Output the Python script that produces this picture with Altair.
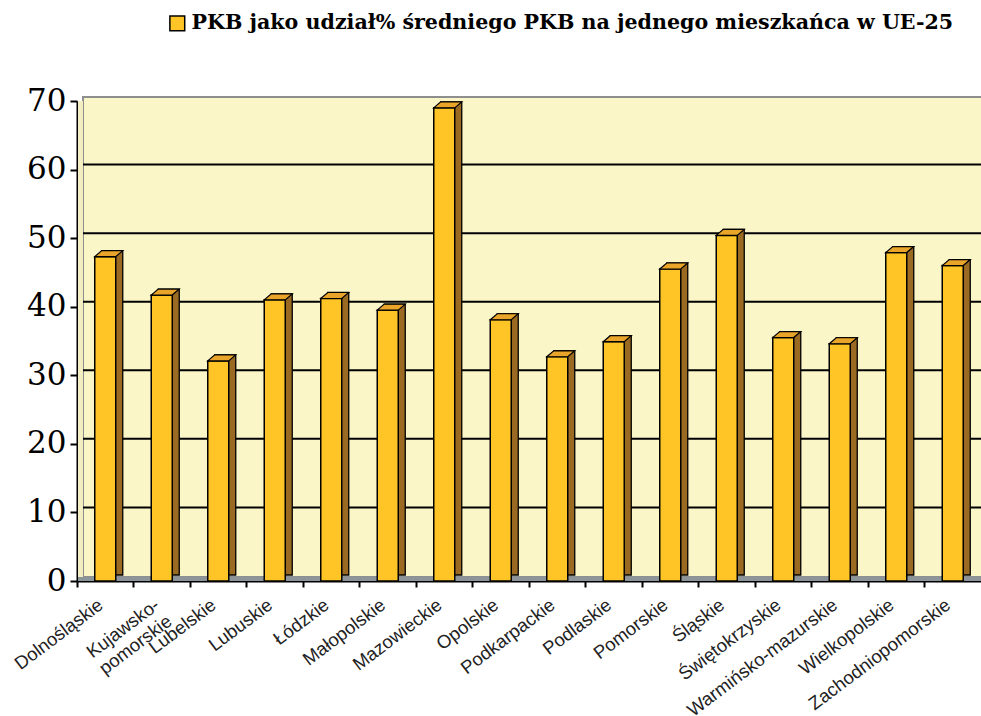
import altair as alt
import pandas as pd

regions = ["Dolnośląskie", "Kujawsko-pomorskie", "Lubelskie", "Lubuskie", "Łódzkie",
           "Małopolskie", "Mazowieckie", "Opolskie", "Podkarpackie", "Podlaskie",
           "Pomorskie", "Śląskie", "Świętokrzyskie", "Warmińsko-mazurskie",
           "Wielkopolskie", "Zachodniopomorskie"]
values = [47.3, 41.7, 32.1, 41.0, 41.2, 39.5, 69.0, 38.1, 32.7, 34.9,
          45.5, 50.4, 35.5, 34.6, 47.9, 46.0]
series_name = "PKB jako udział% średniego PKB na jednego mieszkańca w UE-25"
grid_values = [10, 20, 30, 40, 50, 60]
y_ticks = [0, 10, 20, 30, 40, 50, 60, 70]

FRONT = "#FFC425"
SIDE = "#9A6A22"
TOP = "#E8A52A"
WALL = "#FBF6C8"

W, H = 904, 480

df = pd.DataFrame({"region": regions, "value": values, "s": [series_name] * len(regions)})
gdf = pd.DataFrame({"v": grid_values})

xscale = alt.Scale(paddingInner=0, paddingOuter=0)
yscale = alt.Scale(domain=[0, 70], nice=False, zero=True)

x_enc = alt.X("region:N", sort=None, scale=xscale, title=None,
              axis=alt.Axis(bandPosition=0, labelOffset=-10, labelAngle=323,
                            labelAlign="right", labelBaseline="top",
                            labelFont="Liberation Sans", labelFontSize=18.5,
                            labelColor="#222222", labelPadding=8, labelLimit=0,
                            labelExpr="datum.value == 'Kujawsko-pomorskie' ? ['Kujawsko-', 'pomorskie'] : datum.label",
                            domainColor="black", domainWidth=2,
                            tickColor="black", tickWidth=2, tickSize=6,
                            labelOverlap=False))
y_enc = alt.Y("value:Q", scale=yscale, title=None,
              axis=alt.Axis(values=y_ticks, labelFont="DejaVu Serif", labelFontSize=31,
                            labelColor="black", labelPadding=4,
                            domainColor="black", domainWidth=2,
                            tickColor="black", tickWidth=2, tickSize=7, grid=False))

base = alt.Chart(df)

wall = alt.Chart(pd.DataFrame({"a": [1]})).mark_rect(
    fill=WALL, stroke="#8E8E8E", strokeWidth=2
).encode(x=alt.value(6), x2=alt.value(W + 10), y=alt.value(-4), y2=alt.value(476))

left_wall = alt.Chart(pd.DataFrame({"a": [1]})).mark_rect(
    fill="#F3EDC2"
).encode(x=alt.value(1), x2=alt.value(6), y=alt.value(0), y2=alt.value(479))

floor = alt.Chart(pd.DataFrame({"a": [1]})).mark_rect(
    fill="#8C969A"
).encode(x=alt.value(1), x2=alt.value(W), y=alt.value(476), y2=alt.value(480))

grid = alt.Chart(gdf).mark_rule(color="black", strokeWidth=2, yOffset=-5).encode(
    y=alt.Y("v:Q", scale=yscale), x=alt.value(6), x2=alt.value(W)
)

side = base.mark_bar(fill=SIDE, stroke="black", strokeWidth=1.3, width=21,
                     xOffset=7, yOffset=-6, y2Offset=-6).encode(x=x_enc, y=y_enc)

front = base.mark_bar(stroke="black", strokeWidth=1.5, width=21, opacity=1).encode(
    x=x_enc, y=y_enc,
    color=alt.Color("s:N", scale=alt.Scale(domain=[series_name], range=[FRONT]),
                    legend=alt.Legend(title=None, orient="none", legendX=90, legendY=-88,
                                      symbolType="square", symbolSize=220,
                                      symbolStrokeColor="black", symbolStrokeWidth=1.5,
                                      symbolFillColor=FRONT, symbolOpacity=1,
                                      labelFont="DejaVu Serif", labelFontWeight="bold",
                                      labelFontSize=20.6, labelColor="black", labelLimit=0))
)

top_shape = "M -1 0.214 L 0.5 0.214 L 1 -0.214 L -0.5 -0.214 Z"
top = base.mark_point(shape=top_shape, filled=True, fill=TOP, stroke="black",
                      strokeWidth=1.2, size=784, opacity=1,
                      xOffset=3.5, yOffset=-3).encode(x=x_enc, y=y_enc)

chart = alt.layer(wall, left_wall, floor, grid, side, front, top).properties(
    width=W, height=H,
    autosize=alt.AutoSizeParams(type="none"),
    padding={"left": 77, "top": 101, "right": 0, "bottom": 135},
).configure_view(stroke=None).configure(background="white")

chart.save("out.html", embed_options={"renderer": "svg", "actions": False})
